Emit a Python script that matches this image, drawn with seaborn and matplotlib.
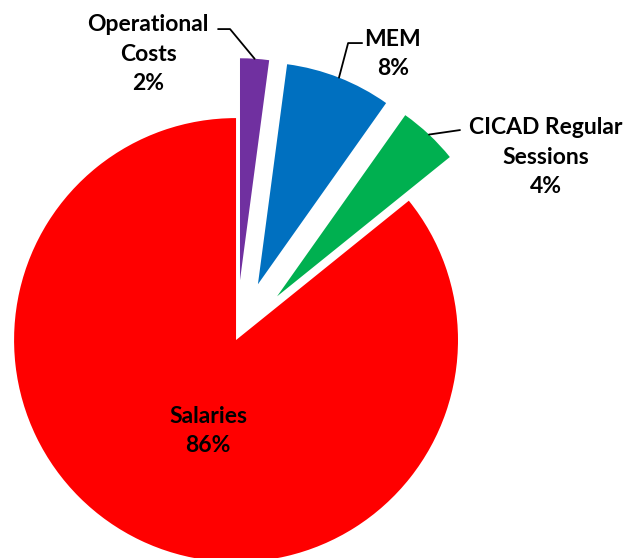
import numpy as np
import seaborn as sns
import matplotlib.pyplot as plt

sns.set_style('white')
plt.rcParams['font.family'] = ['Lato', 'DejaVu Sans']

# slices, clockwise from the salaries wedge
categories = ['Salaries', 'Operational\nCosts', 'MEM', 'CICAD Regular\nSessions']
shares = [85.8, 2.1, 7.7, 4.4]
colors = ['#FF0000', '#7030A0', '#0070C0', '#00B050']
explode = [0, 0.27, 0.27, 0.27]

fig = plt.figure(figsize=(6.27, 5.58), dpi=100)
ax = fig.add_axes([0, 0, 1, 1])

start = 90 + 3.6 * shares[0]
wedges, _ = ax.pie(shares, colors=colors, explode=explode, startangle=start,
                   counterclock=False, radius=1,
                   wedgeprops=dict(linewidth=0))

ax.set_xlim(-1.063, 1.761)
ax.set_ylim(-0.982, 1.532)
ax.axis('off')

def arc_mid(w):
    a = np.deg2rad((w.theta1 + w.theta2) / 2)
    cx, cy = w.center
    return cx + w.r * np.cos(a), cy + w.r * np.sin(a)

labels = [f'{c}\n{round(s):.0f}%' for c, s in zip(categories, shares)]
text_pos = [(-0.126, -0.41), (-0.396, 1.288), (0.707, 1.288), (1.396, 0.824)]
for lab, (x, y) in zip(labels, text_pos):
    ax.text(x, y, lab, ha='center', va='center', fontsize=16.5,
            fontweight='bold', color='black', linespacing=1.5)

# leader lines: label edge -> elbow -> outer arc middle
leaders = {1: [(-0.081, 1.401), (-0.027, 1.401)],
           2: [(0.568, 1.338), (0.505, 1.338)],
           3: [(1.009, 0.946)]}
for i, pts in leaders.items():
    px, py = arc_mid(wedges[i])
    xs = [p[0] for p in pts] + [px]
    ys = [p[1] for p in pts] + [py]
    ax.plot(xs, ys, color='black', lw=1.3)

fig.savefig('out.png', dpi=100)
